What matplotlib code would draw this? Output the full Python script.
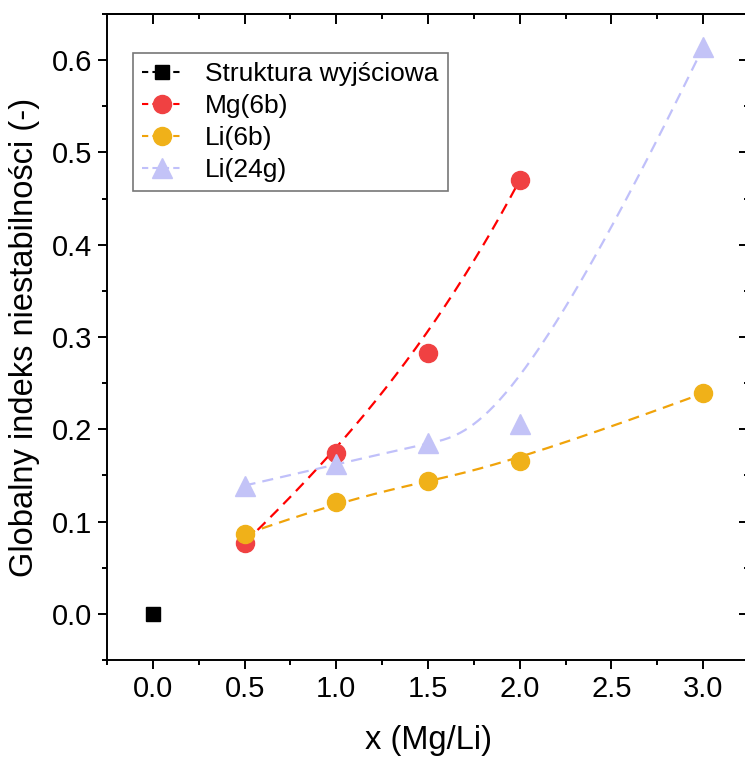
import matplotlib
matplotlib.use("Agg")
import matplotlib.pyplot as plt
from matplotlib.ticker import MultipleLocator, FormatStrFormatter
import numpy as np

plt.rcParams['font.family'] = ['Liberation Sans', 'DejaVu Sans']

# data
x_ref = [0.0]
y_ref = [0.0]

x_mg6b = [0.5, 1.0, 1.5, 2.0]
y_mg6b = [0.077, 0.174, 0.283, 0.470]

x_li6b = [0.5, 1.0, 1.5, 2.0, 3.0]
y_li6b = [0.086, 0.121, 0.144, 0.166, 0.239]

x_li24g = [0.5, 1.0, 1.5, 2.0, 3.0]
y_li24g = [0.139, 0.162, 0.185, 0.206, 0.614]


def bspline(xs, ys, num=300):
	# clamped B-spline using the points as control points (Origin style)
	pts = np.column_stack([xs, ys]).astype(float)
	n = len(pts)
	k = min(3, n - 1)
	knots = np.concatenate([np.zeros(k), np.linspace(0, 1, n - k + 1), np.ones(k)])
	t = np.linspace(0, 1, num)
	t[-1] = 1 - 1e-10
	N = np.zeros((num, len(knots) - 1))
	for i in range(len(knots) - 1):
		N[:, i] = (knots[i] <= t) & (t < knots[i + 1])
	for d in range(1, k + 1):
		Nn = np.zeros((num, len(knots) - 1 - d))
		for i in range(len(knots) - 1 - d):
			a = knots[i + d] - knots[i]
			b = knots[i + d + 1] - knots[i + 1]
			left = (t - knots[i]) / a * N[:, i] if a > 0 else 0
			right = (knots[i + d + 1] - t) / b * N[:, i + 1] if b > 0 else 0
			Nn[:, i] = left + right
		N = Nn
	curve = N @ pts
	return curve[:, 0], curve[:, 1]


fig = plt.figure(figsize=(7.45, 7.58), dpi=100)
# right edge of the frame sits just outside the picture, as in the original
ax = fig.add_axes([107 / 745, 1 - 660 / 758, 642 / 745, 646 / 758])

series = [
	(x_mg6b, y_mg6b, "Mg(6b)", "o", "#F04142", "#FF0000", 13),
	(x_li6b, y_li6b, "Li(6b)", "o", "#F0B119", "#F0A30A", 13),
	(x_li24g, y_li24g, "Li(24g)", "^", "#C3C3F7", "#C0C0FA", 15),
]

ax.plot(x_ref, y_ref, ls=(0, (3, 2)), color="black", lw=1.5, marker="s",
	ms=9.5, mfc="black", mec="black", label="Struktura wyjściowa")

for xs, ys, name, mk, mcol, lcol, ms in series:
	cx, cy = bspline(xs, ys)
	ax.plot(cx, cy, ls=(0, (5, 3.2)), color=lcol, lw=1.6, zorder=2)
	ax.plot(xs, ys, ls="none", marker=mk, ms=ms, mfc=mcol, mec=mcol, zorder=3)
	# legend handle
	ax.plot([], [], ls=(0, (3, 2)), color=lcol, lw=1.5, marker=mk, ms=ms,
		mfc=mcol, mec=mcol, label=name)

ax.set_xlim(-0.25, 3.25)
ax.set_ylim(-0.05, 0.65)
ax.xaxis.set_major_locator(MultipleLocator(0.5))
ax.xaxis.set_minor_locator(MultipleLocator(0.25))
ax.yaxis.set_major_locator(MultipleLocator(0.1))
ax.yaxis.set_minor_locator(MultipleLocator(0.05))
ax.xaxis.set_major_formatter(FormatStrFormatter("%.1f"))
ax.yaxis.set_major_formatter(FormatStrFormatter("%.1f"))

ax.tick_params(which="both", direction="out", top=False, right=False, labelsize=21, width=1.4)
ax.tick_params(which="major", length=6.5, pad=4)
ax.tick_params(which="minor", length=3.6)
# inward ticks on top and right, no labels
axt = ax.secondary_xaxis("top")
axt.xaxis.set_major_locator(MultipleLocator(0.5))
axt.xaxis.set_minor_locator(MultipleLocator(0.25))
axt.tick_params(which="both", direction="in", labeltop=False, width=1.4)
axt.tick_params(which="major", length=7)
axt.tick_params(which="minor", length=3.6)
axr = ax.secondary_yaxis("right")
axr.yaxis.set_major_locator(MultipleLocator(0.1))
axr.yaxis.set_minor_locator(MultipleLocator(0.05))
axr.tick_params(which="both", direction="in", labelright=False, width=1.4)
axr.tick_params(which="major", length=7)
axr.tick_params(which="minor", length=3.6)
for s in ax.spines.values():
	s.set_linewidth(1.4)
axt.spines["top"].set_linewidth(1.4)
axr.spines["right"].set_linewidth(1.4)

ax.set_xlabel("x (Mg/Li)", fontsize=23.5, labelpad=16)
ax.set_ylabel("Globalny indeks niestabilności (-)", fontsize=23.5, labelpad=9)

leg = ax.legend(loc="upper left", bbox_to_anchor=(0.04, 0.94), fontsize=19,
	frameon=True, fancybox=False, edgecolor="#555555", handlelength=1.5,
	handletextpad=0.9, borderpad=0.35, labelspacing=0.3, borderaxespad=0)
leg.get_frame().set_linewidth(1.2)

plt.savefig("out.png", dpi=100)
